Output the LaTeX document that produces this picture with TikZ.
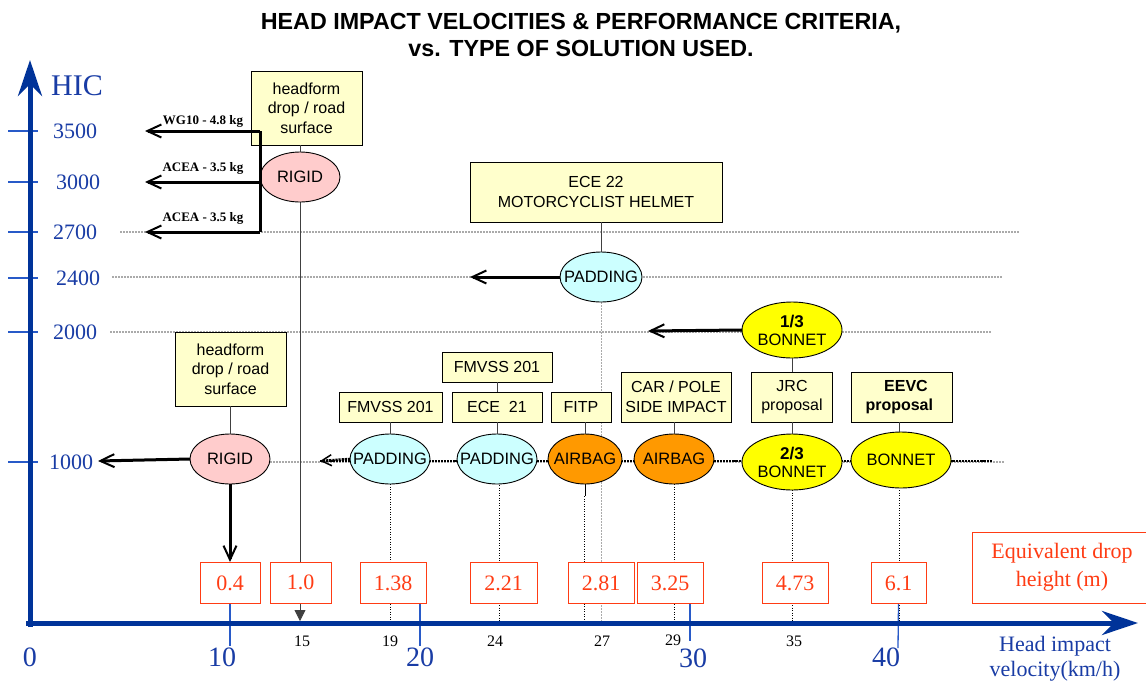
\documentclass[tikz,border=0pt]{standalone}
\usepackage{fontspec}
\setmainfont{Liberation Serif}
\newfontfamily\arial{Liberation Sans}
\usetikzlibrary{shapes.geometric,arrows.meta}
\pgfdeclarelayer{background}
\pgfdeclarelayer{canvas}
\pgfsetlayers{canvas,background,main}
\definecolor{axisblue}{RGB}{0,51,153}
\definecolor{lblue}{RGB}{25,60,165}
\definecolor{tickblue}{RGB}{40,90,200}
\definecolor{redc}{RGB}{255,60,20}
\definecolor{boxy}{RGB}{255,255,204}
\definecolor{pinkf}{RGB}{255,204,204}
\definecolor{cyanf}{RGB}{204,255,255}
\definecolor{orangef}{RGB}{255,153,0}
\definecolor{yellowf}{RGB}{255,255,0}
\definecolor{gridg}{RGB}{170,170,170}
\newcommand{\zb}[1]{\makebox[0pt]{#1}}
\begin{document}
\begin{tikzpicture}[x=1pt,y=-1pt,
 lbox/.style={draw=black,fill=boxy,line width=0.9pt,align=center,inner sep=0pt,font=\arial\fontsize{16}{19.5}\selectfont},
 ell/.style={ellipse,draw=black,line width=0.9pt,inner sep=0pt,outer sep=0pt,align=center,font=\arial\fontsize{16.5}{18}\selectfont},
 rbox/.style={draw=redc,fill=white,line width=1pt,text=redc,inner sep=0pt,minimum height=41pt,font=\fontsize{22}{25}\selectfont},
 conn/.style={draw=black!75,line width=0.8pt},
 gridl/.style={draw=gridg,line width=1.3pt,dash pattern=on 1.5pt off 1.5pt},
 vdot/.style={draw=black,line width=0.6pt,dash pattern=on 1pt off 1.5pt},
 heavydot/.style={draw=black,line width=2.6pt,dash pattern=on 2.2pt off 0.9pt},
 harrow/.style={draw=black,line width=3pt,-{Straight Barb[length=14pt,width=13pt,line width=2pt]}},
 ylab/.style={text=lblue,font=\fontsize{22}{24}\selectfont},
 xlab/.style={text=lblue,font=\fontsize{28}{30}\selectfont},
 vlab/.style={font=\fontsize{16}{17}\selectfont},
 alab/.style={font=\bfseries\fontsize{13}{14}\selectfont},
 ytick/.style={draw=tickblue,line width=1.5pt},
 xtick/.style={draw=tickblue,line width=1.3pt}
]
\useasboundingbox (0,0) rectangle (1146,681);
\begin{pgfonlayer}{canvas}
\fill[white] (0,0) rectangle (1146,681);
\end{pgfonlayer}

% title
\node[font=\arial\bfseries\fontsize{23.3}{27}\selectfont,align=center] (title) at (581,35)
  {HEAD IMPACT VELOCITIES \& PERFORMANCE CRITERIA,\\vs. TYPE OF SOLUTION USED.};

% ---------- nodes ----------
\node[lbox,minimum width=111pt,minimum height=74pt] (hfU) at (306.5,108) {headform\\drop / road\\surface};
\node[ell,fill=pinkf,minimum width=80pt,minimum height=50pt] (rigU) at (300,177) {\zb{RIGID}};
\node[lbox,minimum width=111pt,minimum height=74pt] (hfL) at (230.5,369) {headform\\drop / road\\surface};
\node[ell,fill=pinkf,minimum width=80pt,minimum height=50pt] (rigL) at (230,459) {\zb{RIGID}};

\node[lbox,minimum width=252pt,minimum height=60pt] (ece22) at (596,192) {ECE 22\\MOTORCYCLIST HELMET};
\node[ell,fill=cyanf,minimum width=82pt,minimum height=50pt] (padE) at (601,277) {\zb{PADDING}};

\node[lbox,minimum width=103pt,minimum height=30pt] (fmvL) at (390.5,407) {FMVSS 201};
\node[lbox,minimum width=110pt,minimum height=30pt] (fmvT) at (497,367) {FMVSS 201};
\node[lbox,minimum width=90pt,minimum height=30pt] (ece21) at (497,407) {ECE\ \ 21};
\node[lbox,minimum width=60pt,minimum height=30pt] (fitp) at (581,407) {FITP};
\node[lbox,minimum width=110pt,minimum height=50pt] (carp) at (676,397) {CAR / POLE\\SIDE IMPACT};
\node[lbox,minimum width=81pt,minimum height=50pt] (jrc) at (792,397) {JRC\\proposal};
\node[lbox,minimum width=101pt,minimum height=50pt,font=\arial\bfseries\fontsize{16}{19.5}\selectfont] (eevc) at (901.5,397) {\ \ EEVC\\proposal\ \ };

\node[ell,fill=cyanf,minimum width=80pt,minimum height=50pt] (pad1) at (390,459) {\zb{PADDING}};
\node[ell,fill=cyanf,minimum width=80pt,minimum height=50pt] (pad2) at (497,459) {\zb{PADDING}};
\node[ell,fill=orangef,minimum width=74pt,minimum height=50pt] (air1) at (585,459) {\zb{AIRBAG}};
\node[ell,fill=orangef,minimum width=80pt,minimum height=50pt] (air2) at (674,459) {\zb{AIRBAG}};
\node[ell,fill=yellowf,minimum width=100pt,minimum height=56pt] (bon23) at (792,462) {\zb{\textbf{\fontsize{17}{18}\selectfont 2/3}}\\\zb{BONNET}};
\node[ell,fill=yellowf,minimum width=100pt,minimum height=56pt] (bon) at (901,460) {\zb{BONNET}};
\node[ell,fill=yellowf,minimum width=100pt,minimum height=56pt] (bon13) at (792,330) {\zb{\textbf{\fontsize{17}{18}\selectfont 1/3}}\\\zb{BONNET}};

% red boxes
\node[rbox,minimum width=60pt] (r04) at (230,583) {0.4};
\node[rbox,minimum width=61pt] (r10) at (300.5,582.5) {1.0};
\node[rbox,minimum width=66pt] (r138) at (393,583) {1.38};
\node[rbox,minimum width=67pt] (r221) at (503.5,583) {2.21};
\node[rbox,minimum width=66pt] (r281) at (601,583) {2.81};
\node[rbox,minimum width=66pt] (r325) at (670,583) {3.25};
\node[rbox,minimum width=66pt] (r473) at (795,583) {4.73};
\node[rbox,minimum width=55pt] (r61) at (898.5,583) {6.1};
\node[rbox,minimum width=180pt,minimum height=71pt,align=center,font=\fontsize{22}{28}\selectfont] (req) at (1062,567.5) {Equivalent drop\\height (m)};

% axis labels
\node[text=lblue,font=\fontsize{30}{32}\selectfont] (hic) at (77,86) {HIC};
\node[ylab] (y3500) at (75,131) {3500};
\node[ylab] (y3000) at (78,182) {3000};
\node[ylab] (y2700) at (75,232) {2700};
\node[ylab] (y2400) at (78,278) {2400};
\node[ylab] (y2000) at (75,332) {2000};
\node[ylab] (y1000) at (71,462) {1000};

\node[xlab] (x0) at (30,657) {0};
\node[xlab] (x10) at (222,657) {10};
\node[xlab] (x20) at (420,657) {20};
\node[xlab] (x30) at (693,658) {30};
\node[xlab] (x40) at (886,657) {40};
\node[vlab] (v15) at (302,641) {15};
\node[vlab] (v19) at (390,641) {19};
\node[vlab] (v24) at (495,641) {24};
\node[vlab] (v27) at (602,641) {27};
\node[vlab] (v29) at (673,640) {29};
\node[vlab] (v35) at (794,641) {35};
\node[text=lblue,align=center,font=\fontsize{22}{25}\selectfont] (vel) at (1055,659) {Head impact\\velocity(km/h)};

\node[alab] (lwg) at (203,121) {WG10 - 4.8 kg};
\node[alab] (lac1) at (203,168) {ACEA - 3.5 kg};
\node[alab] (lac2) at (203,218) {ACEA - 3.5 kg};

% coordinates
\coordinate (b1) at (260,131);
\coordinate (b2) at (260,182);
\coordinate (b3) at (260,232);
\coordinate (e3500) at (145,131);
\coordinate (e3000) at (145,182);
\coordinate (e2700) at (145,232);
\coordinate (e1000) at (98,461);
\coordinate (e2400) at (470,277);
\coordinate (e2000) at (648,331);
\coordinate (e1000b) at (320,461);
\coordinate (ax15) at (300,621);
\coordinate (yS) at (30,627);
\coordinate (yN) at (30,60);
\coordinate (xW) at (26,623);
\coordinate (xE) at (1138,623);

% ---------- background ----------
\begin{pgfonlayer}{background}
\draw[gridl] (120,232) -- (1020,232);
\draw[gridl] (112,277) -- (1002,277);
\draw[gridl] (110,332) -- (992,332);
\draw[gridl] (270,462) -- (1005,462);
\draw[heavydot] (e1000b) -- (992,461);
\draw[vdot] (pad1.south) -- (pad1.south |- xW);
\draw[vdot] (499,485) -- (499,623);
\draw[draw=black,line width=1pt] (air1.south) -- ++(0,12);
\draw[vdot] (584,496) -- (584,623);
\draw[gridl,line width=1pt] (padE.south) -- (padE.south |- xW);
\draw[vdot] (air2.south) -- (air2.south |- xW);
\draw[vdot] (bon23.south) -- (bon23.south |- xW);
\draw[vdot] (899,490) -- (899,623);
\draw[conn,-{Triangle[length=11pt,width=11pt]}] (rigU.south) -- (ax15);
\end{pgfonlayer}

% connectors box -> ellipse
\draw[conn] (hfU.south -| rigU) -- (rigU.north);
\draw[conn] (hfL.south -| rigL) -- (rigL.north);
\draw[conn] (ece22.south -| padE) -- (padE.north);
\draw[conn] (fmvL.south -| pad1) -- (pad1.north);
\draw[conn] (fmvT.south) -- (ece21.north);
\draw[conn] (ece21.south) -- (ece21.south |- pad2.north);
\draw[conn] (fitp.south -| air1) -- (air1.north);
\draw[conn] (carp.south -| air2) -- (air2.north);
\draw[conn] (bon13.south) -- (jrc.north);
\draw[conn] (jrc.south) -- (bon23.north);
\draw[conn] (eevc.south -| 899,0) -- (899,432);

% thick arrows
\draw[draw=black,line width=3pt] (b1) -- (b3);
\draw[harrow] (b1) -- (e3500);
\draw[harrow] (b2) -- (e3000);
\draw[harrow] (b3) -- (e2700);
\draw[harrow] (rigL.west) -- (e1000);
\draw[harrow] (rigL.south) -- (r04.north);
\draw[harrow] (padE.west) -- (e2400);
\draw[harrow] (bon13.west) -- (e2000);
\draw[heavydot,-{Straight Barb[length=10pt,width=11pt,line width=1.5pt]}] (pad1.west) -- (e1000b);

% axes and ticks
\foreach \yy in {131,182,232,278,332,462} \draw[ytick] (8,\yy) -- (38,\yy);
\draw[xtick] (r04.south) -- (230,646);
\draw[xtick] (420,604) -- (420,646);
\draw[xtick] (690,604) -- (690,641);
\draw[xtick] (r61.south) -- (898,648);
\draw[draw=axisblue,line width=5pt,-{Stealth[length=36pt,width=24pt,inset=12pt]}] (yS) -- (yN);
\draw[draw=axisblue,line width=5pt,-{Stealth[length=36pt,width=24pt,inset=12pt]}] (xW) -- (xE);
\end{tikzpicture}
\end{document}
